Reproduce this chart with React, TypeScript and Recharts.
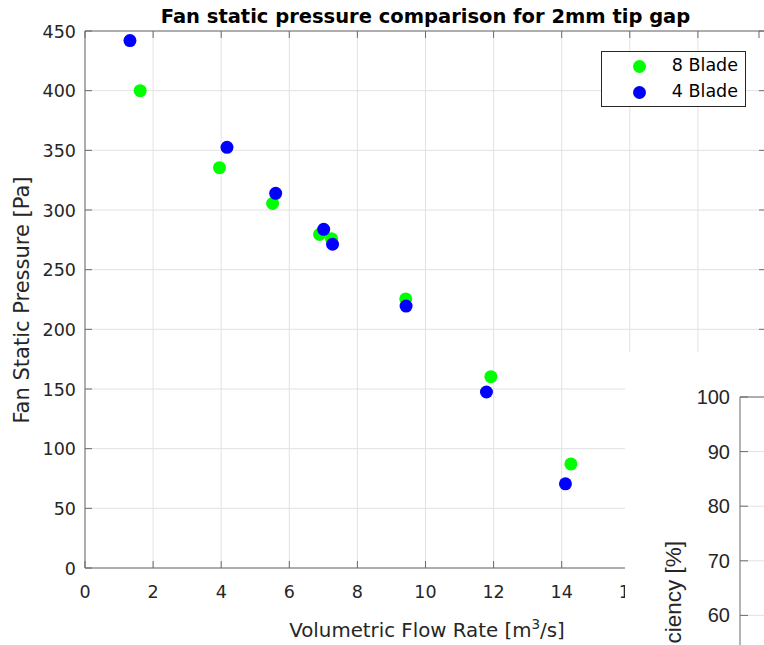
import { CartesianGrid, Legend, Scatter, ScatterChart, XAxis, YAxis } from 'recharts'

// Fan static pressure vs volumetric flow rate
const flow8 = [1.62, 3.95, 5.51, 6.89, 7.24, 9.42, 11.92, 14.27]
const pressure8 = [400, 335.5, 305.5, 279.5, 276, 225.5, 160.3, 87.2]
const flow4 = [1.32, 4.17, 5.6, 7.01, 7.27, 9.43, 11.79, 14.11]
const pressure4 = [442, 352.5, 314, 283.8, 271.3, 219.5, 147.5, 70.5]

const flowTicks = [0, 2, 4, 6, 8, 10, 12, 14, 16, 18, 20]
const pressureTicks = [0, 50, 100, 150, 200, 250, 300, 350, 400, 450]
// only the top of the efficiency axis is visible in the overlapping window
const efficiencyTicks = [60, 70, 80, 90, 100]

// both series share identical domains; the second one is bound to the top/right
// axes so that the box edges of the MATLAB-style frame get drawn
const SERIES = [
  { name: '8 Blade', color: '#00ff00', xId: 0, yId: 0, data: flow8.map((x, i) => ({ x, y: pressure8[i] })) },
  { name: '4 Blade', color: '#0000ff', xId: 'top', yId: 'right', data: flow4.map((x, i) => ({ x, y: pressure4[i] })) },
]

const AXIS = '#6b6b6b'
const GRID = '#e2e2e2'
const TEXT = '#262626'
const FONT = '"DejaVu Sans", sans-serif'
const ARIAL = '"Liberation Sans", Arial, sans-serif'
const TICK_LEN = 7

const dot = (color: string) => (p: any) => <circle cx={p.cx} cy={p.cy} r={6.5} fill={color} />

function BottomTick({ x, y, payload }: any) {
  // labels past 16 sit under the second figure window anyway
  return (
    <g>
      <line x1={x} y1={y} x2={x} y2={y - TICK_LEN} stroke={AXIS} />
      {payload.value <= 16 && (
        <text x={x} y={y + 30} textAnchor="middle" fontSize={17.5} fill={TEXT} fontFamily={FONT}>
          {payload.value}
        </text>
      )}
    </g>
  )
}

function TopTick({ x, y }: any) {
  return <line x1={x} y1={y} x2={x} y2={y + TICK_LEN} stroke={AXIS} />
}

function LeftTick({ x, y, payload }: any) {
  return (
    <g>
      <line x1={x} y1={y} x2={x + TICK_LEN} y2={y} stroke={AXIS} />
      <text x={x - 9} y={y + 6.5} textAnchor="end" fontSize={17.5} fill={TEXT} fontFamily={FONT}>
        {payload.value}
      </text>
    </g>
  )
}

function RightTick({ x, y }: any) {
  return <line x1={x} y1={y} x2={x - TICK_LEN} y2={y} stroke={AXIS} />
}

function EffTick({ x, y, payload }: any) {
  return (
    <g>
      <line x1={x} y1={y} x2={x + 8} y2={y} stroke={AXIS} />
      <text x={x - 10} y={y + 7} textAnchor="end" fontSize={20} fill={TEXT} fontFamily={ARIAL}>
        {payload.value}
      </text>
    </g>
  )
}

const titleLabel = () => (
  <text x={425.5} y={23} textAnchor="middle" fontSize={19.5} fontWeight="bold" fill="#000" fontFamily={FONT}>
    Fan static pressure comparison for 2mm tip gap
  </text>
)

const xLabel = () => (
  <text x={427} y={637} textAnchor="middle" fontSize={19.8} fill={TEXT} fontFamily={FONT}>
    <tspan>Volumetric Flow Rate [m</tspan>
    <tspan dy={-8} fontSize={13.5}>3</tspan>
    <tspan dy={8}>/s]</tspan>
  </text>
)

const yLabel = () => (
  <text x={29} y={300} transform="rotate(-90 29 300)" textAnchor="middle" fontSize={21} fill={TEXT} fontFamily={FONT}>
    Fan Static Pressure [Pa]
  </text>
)

const effLabel = () => (
  <text x={56} y={189} transform="rotate(-90 56 189)" textAnchor="end" fontSize={22.5} fill={TEXT} fontFamily={ARIAL}>
    Fan Efficiency [%]
  </text>
)

function LegendBox() {
  return (
    <div
      style={{
        width: 143,
        height: 54,
        border: '1px solid #262626',
        background: '#fff',
        position: 'relative',
        fontFamily: FONT,
        fontSize: 17.5,
        color: '#000',
      }}
    >
      {SERIES.map((s, i) => (
        <div key={s.name} style={{ position: 'absolute', left: 0, top: 3 + i * 25.5, width: 136, height: 24 }}>
          <span
            style={{
              position: 'absolute',
              left: 31,
              top: 5,
              width: 13,
              height: 13,
              borderRadius: '50%',
              background: s.color,
            }}
          />
          <span style={{ position: 'absolute', right: 0, top: 0, whiteSpace: 'nowrap' }}>{s.name}</span>
        </div>
      ))}
    </div>
  )
}

export default function App() {
  return (
    <div style={{ position: 'absolute', left: 0, top: 0, width: 764, height: 645, overflow: 'hidden', background: '#fff' }}>
      <ScatterChart width={767} height={645} margin={{ top: 30, right: 0, bottom: 47, left: 25 }}>
        <CartesianGrid stroke={GRID} />
        <XAxis
          type="number"
          dataKey="x"
          domain={[0, 20]}
          allowDataOverflow
          ticks={flowTicks}
          height={30}
          tickSize={0}
          tickMargin={0}
          tick={<BottomTick />}
          axisLine={{ stroke: AXIS }}
          label={{ content: xLabel }}
        />
        <XAxis
          xAxisId="top"
          orientation="top"
          type="number"
          dataKey="x"
          domain={[0, 20]}
          allowDataOverflow
          ticks={flowTicks}
          height={1}
          tickSize={0}
          tickMargin={0}
          tick={<TopTick />}
          axisLine={{ stroke: AXIS }}
          label={{ content: titleLabel }}
        />
        <YAxis
          type="number"
          dataKey="y"
          domain={[0, 450]}
          allowDataOverflow
          ticks={pressureTicks}
          width={60}
          tickSize={0}
          tickMargin={0}
          tick={<LeftTick />}
          axisLine={{ stroke: AXIS }}
          label={{ content: yLabel }}
        />
        <YAxis
          yAxisId="right"
          orientation="right"
          type="number"
          dataKey="y"
          domain={[0, 450]}
          allowDataOverflow
          ticks={pressureTicks}
          width={1}
          tickSize={0}
          tickMargin={0}
          tick={<RightTick />}
          axisLine={{ stroke: AXIS }}
        />
        {SERIES.map((s) => (
          <Scatter
            key={s.name}
            name={s.name}
            data={s.data}
            xAxisId={s.xId}
            yAxisId={s.yId}
            fill={s.color}
            shape={dot(s.color)}
            isAnimationActive={false}
          />
        ))}
        <Legend
          layout="vertical"
          align="center"
          verticalAlign="middle"
          content={() => <LegendBox />}
          wrapperStyle={{ left: 601, top: 51, width: 145, height: 56 }}
        />
      </ScatterChart>

      {/* second figure window overlapping the bottom-right corner */}
      <div style={{ position: 'absolute', left: 625, top: 352, width: 139, height: 293, overflow: 'hidden', background: '#fff' }}>
        <ScatterChart width={300} height={650} margin={{ top: 44, right: 20, bottom: 59, left: 55 }}>
          <CartesianGrid stroke={GRID} vertical={false} />
          <XAxis
            orientation="top"
            type="number"
            dataKey="x"
            domain={[0, 20]}
            allowDataOverflow
            height={1}
            tick={false}
            tickLine={false}
            axisLine={{ stroke: AXIS }}
          />
          <YAxis
            type="number"
            dataKey="y"
            domain={[0, 100]}
            allowDataOverflow
            ticks={efficiencyTicks}
            width={60}
            tickSize={0}
            tickMargin={0}
            tick={<EffTick />}
            axisLine={{ stroke: AXIS }}
            label={{ content: effLabel }}
          />
          <Scatter data={[]} isAnimationActive={false} />
        </ScatterChart>
      </div>
    </div>
  )
}
